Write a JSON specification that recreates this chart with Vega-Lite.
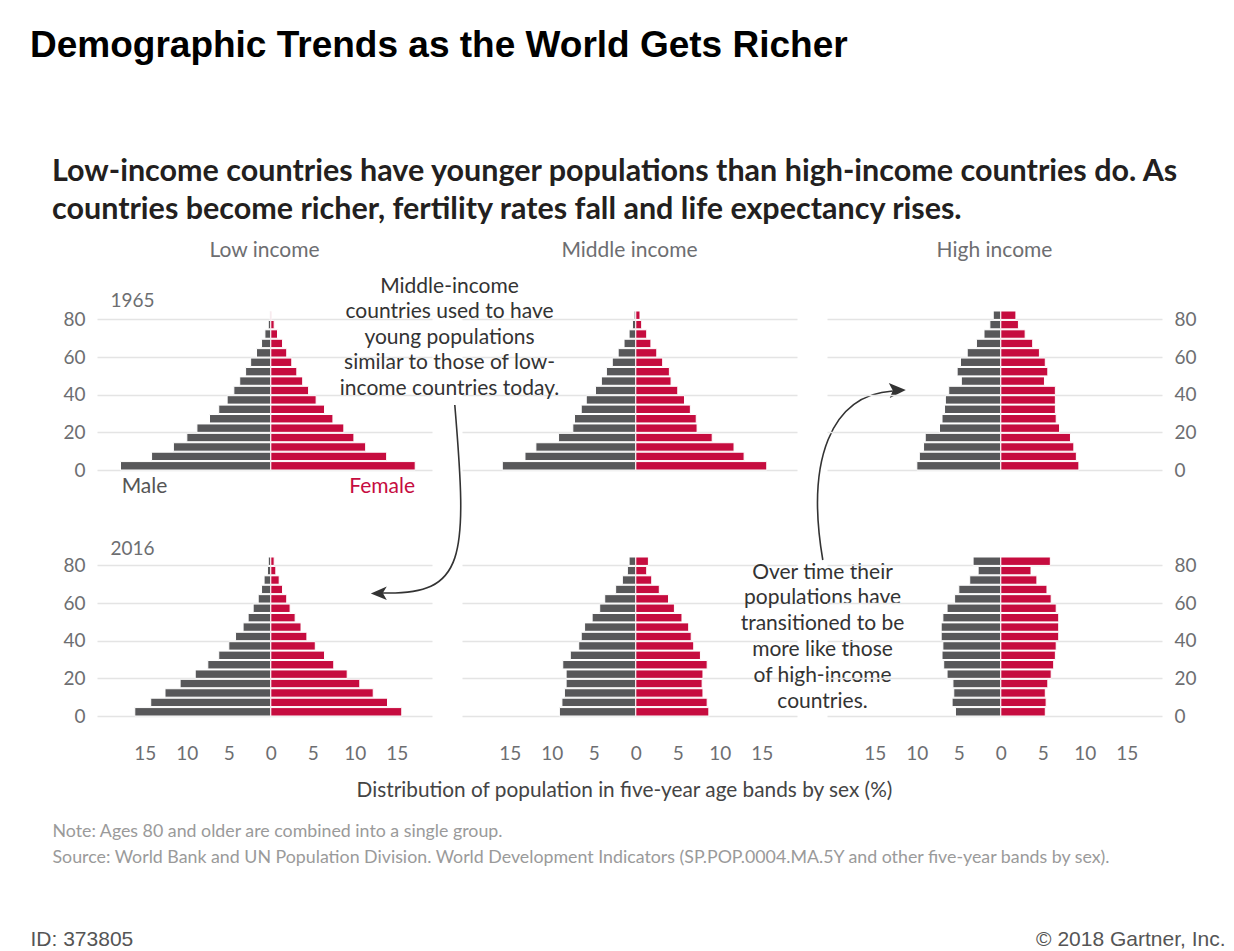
{
"$schema": "https://vega.github.io/schema/vega-lite/v6.json",
"background": "white",
"padding": {"left": 30, "top": 26, "right": 5, "bottom": 2},
"title": {"text": "Demographic Trends as the World Gets Richer", "anchor": "start", "font": "Liberation Sans", "fontSize": 37, "fontWeight": "bold", "color": "#000000", "baseline": "alphabetic", "offset": 63},
"datasets": {"pop": [
{"income":"Low","year":1965,"sex":"Male","age":0,"value":-17.9},{"income":"Low","year":1965,"sex":"Male","age":5,"value":-14.2},{"income":"Low","year":1965,"sex":"Male","age":10,"value":-11.6},{"income":"Low","year":1965,"sex":"Male","age":15,"value":-10.0},{"income":"Low","year":1965,"sex":"Male","age":20,"value":-8.8},{"income":"Low","year":1965,"sex":"Male","age":25,"value":-7.3},{"income":"Low","year":1965,"sex":"Male","age":30,"value":-6.2},{"income":"Low","year":1965,"sex":"Male","age":35,"value":-5.2},{"income":"Low","year":1965,"sex":"Male","age":40,"value":-4.4},{"income":"Low","year":1965,"sex":"Male","age":45,"value":-3.7},{"income":"Low","year":1965,"sex":"Male","age":50,"value":-3.0},{"income":"Low","year":1965,"sex":"Male","age":55,"value":-2.4},{"income":"Low","year":1965,"sex":"Male","age":60,"value":-1.7},{"income":"Low","year":1965,"sex":"Male","age":65,"value":-1.1},{"income":"Low","year":1965,"sex":"Male","age":70,"value":-0.7},{"income":"Low","year":1965,"sex":"Male","age":75,"value":-0.3},{"income":"Low","year":1965,"sex":"Male","age":80,"value":-0.1},
{"income":"Low","year":1965,"sex":"Female","age":0,"value":17.2},{"income":"Low","year":1965,"sex":"Female","age":5,"value":13.8},{"income":"Low","year":1965,"sex":"Female","age":10,"value":11.3},{"income":"Low","year":1965,"sex":"Female","age":15,"value":9.9},{"income":"Low","year":1965,"sex":"Female","age":20,"value":8.7},{"income":"Low","year":1965,"sex":"Female","age":25,"value":7.4},{"income":"Low","year":1965,"sex":"Female","age":30,"value":6.4},{"income":"Low","year":1965,"sex":"Female","age":35,"value":5.4},{"income":"Low","year":1965,"sex":"Female","age":40,"value":4.5},{"income":"Low","year":1965,"sex":"Female","age":45,"value":3.8},{"income":"Low","year":1965,"sex":"Female","age":50,"value":3.1},{"income":"Low","year":1965,"sex":"Female","age":55,"value":2.5},{"income":"Low","year":1965,"sex":"Female","age":60,"value":1.9},{"income":"Low","year":1965,"sex":"Female","age":65,"value":1.4},{"income":"Low","year":1965,"sex":"Female","age":70,"value":0.8},{"income":"Low","year":1965,"sex":"Female","age":75,"value":0.4},{"income":"Low","year":1965,"sex":"Female","age":80,"value":0.1},
{"income":"Low","year":2016,"sex":"Male","age":0,"value":-16.2},{"income":"Low","year":2016,"sex":"Male","age":5,"value":-14.3},{"income":"Low","year":2016,"sex":"Male","age":10,"value":-12.6},{"income":"Low","year":2016,"sex":"Male","age":15,"value":-10.8},{"income":"Low","year":2016,"sex":"Male","age":20,"value":-9.0},{"income":"Low","year":2016,"sex":"Male","age":25,"value":-7.5},{"income":"Low","year":2016,"sex":"Male","age":30,"value":-6.2},{"income":"Low","year":2016,"sex":"Male","age":35,"value":-5.0},{"income":"Low","year":2016,"sex":"Male","age":40,"value":-4.2},{"income":"Low","year":2016,"sex":"Male","age":45,"value":-3.3},{"income":"Low","year":2016,"sex":"Male","age":50,"value":-2.7},{"income":"Low","year":2016,"sex":"Male","age":55,"value":-2.1},{"income":"Low","year":2016,"sex":"Male","age":60,"value":-1.5},{"income":"Low","year":2016,"sex":"Male","age":65,"value":-1.1},{"income":"Low","year":2016,"sex":"Male","age":70,"value":-0.8},{"income":"Low","year":2016,"sex":"Male","age":75,"value":-0.4},{"income":"Low","year":2016,"sex":"Male","age":80,"value":-0.3},
{"income":"Low","year":2016,"sex":"Female","age":0,"value":15.6},{"income":"Low","year":2016,"sex":"Female","age":5,"value":13.9},{"income":"Low","year":2016,"sex":"Female","age":10,"value":12.2},{"income":"Low","year":2016,"sex":"Female","age":15,"value":10.6},{"income":"Low","year":2016,"sex":"Female","age":20,"value":9.1},{"income":"Low","year":2016,"sex":"Female","age":25,"value":7.5},{"income":"Low","year":2016,"sex":"Female","age":30,"value":6.4},{"income":"Low","year":2016,"sex":"Female","age":35,"value":5.3},{"income":"Low","year":2016,"sex":"Female","age":40,"value":4.3},{"income":"Low","year":2016,"sex":"Female","age":45,"value":3.6},{"income":"Low","year":2016,"sex":"Female","age":50,"value":2.9},{"income":"Low","year":2016,"sex":"Female","age":55,"value":2.3},{"income":"Low","year":2016,"sex":"Female","age":60,"value":1.9},{"income":"Low","year":2016,"sex":"Female","age":65,"value":1.4},{"income":"Low","year":2016,"sex":"Female","age":70,"value":1.0},{"income":"Low","year":2016,"sex":"Female","age":75,"value":0.6},{"income":"Low","year":2016,"sex":"Female","age":80,"value":0.4},
{"income":"Middle","year":1965,"sex":"Male","age":0,"value":-15.9},{"income":"Middle","year":1965,"sex":"Male","age":5,"value":-13.2},{"income":"Middle","year":1965,"sex":"Male","age":10,"value":-11.9},{"income":"Middle","year":1965,"sex":"Male","age":15,"value":-9.2},{"income":"Middle","year":1965,"sex":"Male","age":20,"value":-7.5},{"income":"Middle","year":1965,"sex":"Male","age":25,"value":-7.3},{"income":"Middle","year":1965,"sex":"Male","age":30,"value":-6.5},{"income":"Middle","year":1965,"sex":"Male","age":35,"value":-5.9},{"income":"Middle","year":1965,"sex":"Male","age":40,"value":-4.8},{"income":"Middle","year":1965,"sex":"Male","age":45,"value":-4.1},{"income":"Middle","year":1965,"sex":"Male","age":50,"value":-3.5},{"income":"Middle","year":1965,"sex":"Male","age":55,"value":-2.8},{"income":"Middle","year":1965,"sex":"Male","age":60,"value":-2.1},{"income":"Middle","year":1965,"sex":"Male","age":65,"value":-1.4},{"income":"Middle","year":1965,"sex":"Male","age":70,"value":-0.8},{"income":"Middle","year":1965,"sex":"Male","age":75,"value":-0.4},{"income":"Middle","year":1965,"sex":"Male","age":80,"value":-0.2},
{"income":"Middle","year":1965,"sex":"Female","age":0,"value":15.6},{"income":"Middle","year":1965,"sex":"Female","age":5,"value":12.9},{"income":"Middle","year":1965,"sex":"Female","age":10,"value":11.7},{"income":"Middle","year":1965,"sex":"Female","age":15,"value":9.1},{"income":"Middle","year":1965,"sex":"Female","age":20,"value":7.3},{"income":"Middle","year":1965,"sex":"Female","age":25,"value":7.2},{"income":"Middle","year":1965,"sex":"Female","age":30,"value":6.5},{"income":"Middle","year":1965,"sex":"Female","age":35,"value":5.8},{"income":"Middle","year":1965,"sex":"Female","age":40,"value":5.0},{"income":"Middle","year":1965,"sex":"Female","age":45,"value":4.2},{"income":"Middle","year":1965,"sex":"Female","age":50,"value":4.0},{"income":"Middle","year":1965,"sex":"Female","age":55,"value":3.2},{"income":"Middle","year":1965,"sex":"Female","age":60,"value":2.5},{"income":"Middle","year":1965,"sex":"Female","age":65,"value":1.8},{"income":"Middle","year":1965,"sex":"Female","age":70,"value":1.3},{"income":"Middle","year":1965,"sex":"Female","age":75,"value":0.7},{"income":"Middle","year":1965,"sex":"Female","age":80,"value":0.5},
{"income":"Middle","year":2016,"sex":"Male","age":0,"value":-9.1},{"income":"Middle","year":2016,"sex":"Male","age":5,"value":-8.8},{"income":"Middle","year":2016,"sex":"Male","age":10,"value":-8.5},{"income":"Middle","year":2016,"sex":"Male","age":15,"value":-8.3},{"income":"Middle","year":2016,"sex":"Male","age":20,"value":-8.3},{"income":"Middle","year":2016,"sex":"Male","age":25,"value":-8.7},{"income":"Middle","year":2016,"sex":"Male","age":30,"value":-7.8},{"income":"Middle","year":2016,"sex":"Male","age":35,"value":-6.8},{"income":"Middle","year":2016,"sex":"Male","age":40,"value":-6.5},{"income":"Middle","year":2016,"sex":"Male","age":45,"value":-6.1},{"income":"Middle","year":2016,"sex":"Male","age":50,"value":-5.2},{"income":"Middle","year":2016,"sex":"Male","age":55,"value":-4.3},{"income":"Middle","year":2016,"sex":"Male","age":60,"value":-3.7},{"income":"Middle","year":2016,"sex":"Male","age":65,"value":-2.4},{"income":"Middle","year":2016,"sex":"Male","age":70,"value":-1.6},{"income":"Middle","year":2016,"sex":"Male","age":75,"value":-1.0},{"income":"Middle","year":2016,"sex":"Male","age":80,"value":-0.8},
{"income":"Middle","year":2016,"sex":"Female","age":0,"value":8.7},{"income":"Middle","year":2016,"sex":"Female","age":5,"value":8.5},{"income":"Middle","year":2016,"sex":"Female","age":10,"value":8.0},{"income":"Middle","year":2016,"sex":"Female","age":15,"value":7.9},{"income":"Middle","year":2016,"sex":"Female","age":20,"value":8.0},{"income":"Middle","year":2016,"sex":"Female","age":25,"value":8.5},{"income":"Middle","year":2016,"sex":"Female","age":30,"value":7.7},{"income":"Middle","year":2016,"sex":"Female","age":35,"value":6.9},{"income":"Middle","year":2016,"sex":"Female","age":40,"value":6.6},{"income":"Middle","year":2016,"sex":"Female","age":45,"value":6.3},{"income":"Middle","year":2016,"sex":"Female","age":50,"value":5.5},{"income":"Middle","year":2016,"sex":"Female","age":55,"value":4.6},{"income":"Middle","year":2016,"sex":"Female","age":60,"value":3.9},{"income":"Middle","year":2016,"sex":"Female","age":65,"value":2.8},{"income":"Middle","year":2016,"sex":"Female","age":70,"value":1.9},{"income":"Middle","year":2016,"sex":"Female","age":75,"value":1.3},{"income":"Middle","year":2016,"sex":"Female","age":80,"value":1.5},
{"income":"High","year":1965,"sex":"Male","age":0,"value":-10.0},{"income":"High","year":1965,"sex":"Male","age":5,"value":-9.7},{"income":"High","year":1965,"sex":"Male","age":10,"value":-9.2},{"income":"High","year":1965,"sex":"Male","age":15,"value":-9.0},{"income":"High","year":1965,"sex":"Male","age":20,"value":-7.3},{"income":"High","year":1965,"sex":"Male","age":25,"value":-7.0},{"income":"High","year":1965,"sex":"Male","age":30,"value":-6.7},{"income":"High","year":1965,"sex":"Male","age":35,"value":-6.6},{"income":"High","year":1965,"sex":"Male","age":40,"value":-6.2},{"income":"High","year":1965,"sex":"Male","age":45,"value":-4.7},{"income":"High","year":1965,"sex":"Male","age":50,"value":-5.2},{"income":"High","year":1965,"sex":"Male","age":55,"value":-4.8},{"income":"High","year":1965,"sex":"Male","age":60,"value":-4.0},{"income":"High","year":1965,"sex":"Male","age":65,"value":-2.9},{"income":"High","year":1965,"sex":"Male","age":70,"value":-2.0},{"income":"High","year":1965,"sex":"Male","age":75,"value":-1.3},{"income":"High","year":1965,"sex":"Male","age":80,"value":-0.9},
{"income":"High","year":1965,"sex":"Female","age":0,"value":9.3},{"income":"High","year":1965,"sex":"Female","age":5,"value":9.0},{"income":"High","year":1965,"sex":"Female","age":10,"value":8.7},{"income":"High","year":1965,"sex":"Female","age":15,"value":8.3},{"income":"High","year":1965,"sex":"Female","age":20,"value":7.0},{"income":"High","year":1965,"sex":"Female","age":25,"value":6.6},{"income":"High","year":1965,"sex":"Female","age":30,"value":6.5},{"income":"High","year":1965,"sex":"Female","age":35,"value":6.5},{"income":"High","year":1965,"sex":"Female","age":40,"value":6.5},{"income":"High","year":1965,"sex":"Female","age":45,"value":5.2},{"income":"High","year":1965,"sex":"Female","age":50,"value":5.6},{"income":"High","year":1965,"sex":"Female","age":55,"value":5.3},{"income":"High","year":1965,"sex":"Female","age":60,"value":4.6},{"income":"High","year":1965,"sex":"Female","age":65,"value":3.8},{"income":"High","year":1965,"sex":"Female","age":70,"value":2.9},{"income":"High","year":1965,"sex":"Female","age":75,"value":2.1},{"income":"High","year":1965,"sex":"Female","age":80,"value":1.8},
{"income":"High","year":2016,"sex":"Male","age":0,"value":-5.4},{"income":"High","year":2016,"sex":"Male","age":5,"value":-5.8},{"income":"High","year":2016,"sex":"Male","age":10,"value":-5.6},{"income":"High","year":2016,"sex":"Male","age":15,"value":-5.7},{"income":"High","year":2016,"sex":"Male","age":20,"value":-6.4},{"income":"High","year":2016,"sex":"Male","age":25,"value":-6.8},{"income":"High","year":2016,"sex":"Male","age":30,"value":-7.0},{"income":"High","year":2016,"sex":"Male","age":35,"value":-6.9},{"income":"High","year":2016,"sex":"Male","age":40,"value":-7.1},{"income":"High","year":2016,"sex":"Male","age":45,"value":-7.1},{"income":"High","year":2016,"sex":"Male","age":50,"value":-6.9},{"income":"High","year":2016,"sex":"Male","age":55,"value":-6.4},{"income":"High","year":2016,"sex":"Male","age":60,"value":-5.5},{"income":"High","year":2016,"sex":"Male","age":65,"value":-5.0},{"income":"High","year":2016,"sex":"Male","age":70,"value":-3.7},{"income":"High","year":2016,"sex":"Male","age":75,"value":-2.7},{"income":"High","year":2016,"sex":"Male","age":80,"value":-3.3},
{"income":"High","year":2016,"sex":"Female","age":0,"value":5.3},{"income":"High","year":2016,"sex":"Female","age":5,"value":5.4},{"income":"High","year":2016,"sex":"Female","age":10,"value":5.3},{"income":"High","year":2016,"sex":"Female","age":15,"value":5.6},{"income":"High","year":2016,"sex":"Female","age":20,"value":6.0},{"income":"High","year":2016,"sex":"Female","age":25,"value":6.3},{"income":"High","year":2016,"sex":"Female","age":30,"value":6.5},{"income":"High","year":2016,"sex":"Female","age":35,"value":6.6},{"income":"High","year":2016,"sex":"Female","age":40,"value":6.9},{"income":"High","year":2016,"sex":"Female","age":45,"value":6.9},{"income":"High","year":2016,"sex":"Female","age":50,"value":6.9},{"income":"High","year":2016,"sex":"Female","age":55,"value":6.6},{"income":"High","year":2016,"sex":"Female","age":60,"value":6.0},{"income":"High","year":2016,"sex":"Female","age":65,"value":5.5},{"income":"High","year":2016,"sex":"Female","age":70,"value":4.3},{"income":"High","year":2016,"sex":"Female","age":75,"value":3.6},{"income":"High","year":2016,"sex":"Female","age":80,"value":5.9}
]},
"vconcat": [{
  "bounds": "flush",
  "columns": 3,
  "spacing": {"row": 86, "column": 30},
  "title": {"text": ["Low-income countries have younger populations than high-income countries do. As", "countries become richer, fertility rates fall and life expectancy rises."], "anchor": "start", "dx": 22, "font": "Lato", "fontSize": 30.5, "fontWeight": "bold", "color": "#231f20", "lineHeight": 38, "baseline": "alphabetic", "offset": -9},
  "concat": [
      {"width": 335, "height": 160,
       "title": {"text": "Low income", "anchor": "middle", "frame": "group", "baseline": "alphabetic", "offset": 13, "font": "Lato", "fontSize": 21, "fontWeight": "normal", "color": "#6d6e71"},
       "data": {"name": "pop"},
       "transform": [{"filter": "datum.income == 'Low' && datum.year == 1965"}],
       "mark": {"type": "bar", "stroke": "white", "strokeWidth": 1},
       "encoding": {
         "y": {"field": "age", "type": "quantitative", "bin": {"step": 5, "extent": [0, 85]}, "scale": {"domain": [0, 85], "nice": false},
               "axis": {"values": [0, 20, 40, 60, 80], "grid": true, "labelPadding": 12, "title": "1965", "titleAngle": 0, "titleAlign": "left", "titleBaseline": "alphabetic", "titleX": 13, "titleY": -4, "titleFontSize": 19, "titleColor": "#6d6e71"}},
         "x": {"field": "value", "type": "quantitative", "scale": {"domain": [-20.7, 19.2], "nice": false, "zero": false},
               "axis": {"values": [-15.1, 13.2], "labelExpr": "datum.value < 0 ? 'Male' : 'Female'", "labelColor": {"condition": {"test": "datum.value < 0", "value": "#555555"}, "value": "#c60c3f"}, "labelFontSize": 21, "labelPadding": 5, "grid": false, "title": null}},
         "color": {"field": "sex", "type": "nominal", "scale": {"domain": ["Male", "Female"], "range": ["#58585a", "#c60c3f"]}, "legend": null}
       }},
      {"width": 335, "height": 160,
       "title": {"text": "Middle income", "anchor": "middle", "frame": "group", "baseline": "alphabetic", "offset": -3, "font": "Lato", "fontSize": 21, "fontWeight": "normal", "color": "#6d6e71"},
       "layer": [
        {"data": {"name": "pop"},
         "transform": [{"filter": "datum.income == 'Middle' && datum.year == 1965"}],
         "mark": {"type": "bar", "stroke": "white", "strokeWidth": 1},
         "encoding": {
           "y": {"field": "age", "type": "quantitative", "bin": {"step": 5, "extent": [0, 85]}, "scale": {"domain": [0, 85], "nice": false},
                 "axis": {"values": [0, 20, 40, 60, 80], "grid": true, "labels": false, "title": ["Middle-income", "countries used to have", "young populations", "similar to those of low-", "income countries today."], "titleAngle": 0, "titleAlign": "center", "titleBaseline": "alphabetic", "titleX": -13, "titleY": -18, "titleLineHeight": 25.5, "titleFontSize": 21, "titleColor": "#333333"}},
           "x": {"field": "value", "type": "quantitative", "scale": {"domain": [-20.7, 19.2], "nice": false, "zero": false}, "axis": null},
           "color": {"field": "sex", "type": "nominal", "scale": {"domain": ["Male", "Female"], "range": ["#58585a", "#c60c3f"]}, "legend": null}
         }},
        {"data": {"values": [{}]},
         "mark": {"type": "point", "shape": "M -181 -65 C -168 90 -170 125 -253 123", "size": 4, "filled": false, "stroke": "#333333", "strokeWidth": 1.6, "opacity": 1},
         "encoding": {"x": {"datum": 0, "type": "quantitative"}, "y": {"datum": 0, "type": "quantitative"}}},
        {"data": {"values": [{}]},
         "mark": {"type": "point", "shape": "M -265 123.5 L -249 116.5 L -253 123 L -249 130 Z", "size": 4, "filled": true, "fill": "#333333", "strokeWidth": 0, "opacity": 1},
         "encoding": {"x": {"datum": 0, "type": "quantitative"}, "y": {"datum": 0, "type": "quantitative"}}},
        {"data": {"values": [{}]},
         "mark": {"type": "point", "shape": "M 187 90 C 170 -10 195 -75 257 -79", "size": 4, "filled": false, "stroke": "#333333", "strokeWidth": 1.6, "opacity": 1},
         "encoding": {"x": {"datum": 0, "type": "quantitative"}, "y": {"datum": 0, "type": "quantitative"}}},
        {"data": {"values": [{}]},
         "mark": {"type": "point", "shape": "M 270 -80 L 253 -87 L 257 -79.5 L 254 -72 Z", "size": 4, "filled": true, "fill": "#333333", "strokeWidth": 0, "opacity": 1},
         "encoding": {"x": {"datum": 0, "type": "quantitative"}, "y": {"datum": 0, "type": "quantitative"}}}
       ]},
      {"width": 335, "height": 160,
       "title": {"text": "High income", "anchor": "middle", "frame": "group", "baseline": "alphabetic", "offset": 32, "font": "Lato", "fontSize": 21, "fontWeight": "normal", "color": "#6d6e71"},
       "data": {"name": "pop"},
       "transform": [{"filter": "datum.income == 'High' && datum.year == 1965"}],
       "mark": {"type": "bar", "stroke": "white", "strokeWidth": 1},
       "encoding": {
         "y": {"field": "age", "type": "quantitative", "bin": {"step": 5, "extent": [0, 85]}, "scale": {"domain": [0, 85], "nice": false},
               "axis": {"orient": "right", "values": [0, 20, 40, 60, 80], "grid": true, "labelPadding": 12, "title": null}},
         "x": {"field": "value", "type": "quantitative", "scale": {"domain": [-20.7, 19.2], "nice": false, "zero": false}, "axis": null},
         "color": {"field": "sex", "type": "nominal", "scale": {"domain": ["Male", "Female"], "range": ["#58585a", "#c60c3f"]}, "legend": null}
       }},
      {"width": 335, "height": 160,
       "data": {"name": "pop"},
       "transform": [{"filter": "datum.income == 'Low' && datum.year == 2016"}],
       "mark": {"type": "bar", "stroke": "white", "strokeWidth": 1},
       "encoding": {
         "y": {"field": "age", "type": "quantitative", "bin": {"step": 5, "extent": [0, 85]}, "scale": {"domain": [0, 85], "nice": false},
               "axis": {"values": [0, 20, 40, 60, 80], "grid": true, "labelPadding": 12, "title": "2016", "titleAngle": 0, "titleAlign": "left", "titleBaseline": "alphabetic", "titleX": 13, "titleY": -2, "titleFontSize": 19, "titleColor": "#6d6e71"}},
         "x": {"field": "value", "type": "quantitative", "scale": {"domain": [-20.7, 19.2], "nice": false, "zero": false},
               "axis": {"values": [-15, -10, -5, 0, 5, 10, 15], "labelExpr": "'' + abs(datum.value)", "labelPadding": 28, "grid": false,
                        "title": ["Note: Ages 80 and older are combined into a single group.", "Source: World Bank and UN Population Division. World Development Indicators (SP.POP.0004.MA.5Y and other five-year bands by sex)."],
                        "titleAlign": "left", "titleBaseline": "alphabetic", "titleX": -45, "titleY": 120, "titleLineHeight": 26, "titleFontSize": 17.8, "titleColor": "#9a9a9a"}},
         "color": {"field": "sex", "type": "nominal", "scale": {"domain": ["Male", "Female"], "range": ["#58585a", "#c60c3f"]}, "legend": null}
       }},
      {"width": 335, "height": 160,
       "data": {"name": "pop"},
       "transform": [{"filter": "datum.income == 'Middle' && datum.year == 2016"}],
       "mark": {"type": "bar", "stroke": "white", "strokeWidth": 1},
       "encoding": {
         "y": {"field": "age", "type": "quantitative", "bin": {"step": 5, "extent": [0, 85]}, "scale": {"domain": [0, 85], "nice": false},
               "axis": {"values": [0, 20, 40, 60, 80], "grid": true, "labels": false, "title": ["Over time their", "populations have", "transitioned to be", "more like those", "of high-income", "countries."], "titleAngle": 0, "titleAlign": "center", "titleBaseline": "alphabetic", "titleX": 360, "titleY": 22, "titleLineHeight": 25.8, "titleFontSize": 21, "titleColor": "#333333"}},
         "x": {"field": "value", "type": "quantitative", "scale": {"domain": [-20.7, 19.2], "nice": false, "zero": false},
               "axis": {"values": [-15, -10, -5, 0, 5, 10, 15], "labelExpr": "'' + abs(datum.value)", "labelPadding": 28, "grid": false,
                        "title": "Distribution of population in five-year age bands by sex (%)", "titleAlign": "center", "titleBaseline": "alphabetic", "titleX": 162, "titleY": 80, "titleFontSize": 20.8, "titleColor": "#444444"}},
         "color": {"field": "sex", "type": "nominal", "scale": {"domain": ["Male", "Female"], "range": ["#58585a", "#c60c3f"]}, "legend": null}
       }},
      {"width": 335, "height": 160,
       "data": {"name": "pop"},
       "transform": [{"filter": "datum.income == 'High' && datum.year == 2016"}],
       "mark": {"type": "bar", "stroke": "white", "strokeWidth": 1},
       "encoding": {
         "y": {"field": "age", "type": "quantitative", "bin": {"step": 5, "extent": [0, 85]}, "scale": {"domain": [0, 85], "nice": false},
               "axis": {"orient": "right", "values": [0, 20, 40, 60, 80], "grid": true, "labelPadding": 12, "title": "ID: 373805", "titleAngle": 0, "titleAlign": "left", "titleBaseline": "alphabetic", "titleX": -1132, "titleY": 389, "titleFont": "Liberation Sans", "titleFontSize": 21, "titleColor": "#555555"}},
         "x": {"field": "value", "type": "quantitative", "scale": {"domain": [-20.7, 19.2], "nice": false, "zero": false},
               "axis": {"values": [-15, -10, -5, 0, 5, 10, 15], "labelExpr": "'' + abs(datum.value)", "labelPadding": 28, "grid": false,
                        "title": "© 2018 Gartner, Inc.", "titleAlign": "right", "titleBaseline": "alphabetic", "titleX": 398, "titleY": 229, "titleFont": "Liberation Sans", "titleFontSize": 21, "titleColor": "#555555"}},
         "color": {"field": "sex", "type": "nominal", "scale": {"domain": ["Male", "Female"], "range": ["#58585a", "#c60c3f"]}, "legend": null}
       }}
  ]
}],
"config": {
  "view": {"stroke": null},
  "font": "Lato",
  "axis": {"labelFont": "Lato", "labelFontSize": 19, "labelColor": "#6d6e71", "gridColor": "#e4e4e4", "gridWidth": 1.5, "domain": false, "ticks": false, "titleFont": "Lato", "titleFontWeight": "normal", "labelFlush": false, "labelOverlap": false}
}
}
